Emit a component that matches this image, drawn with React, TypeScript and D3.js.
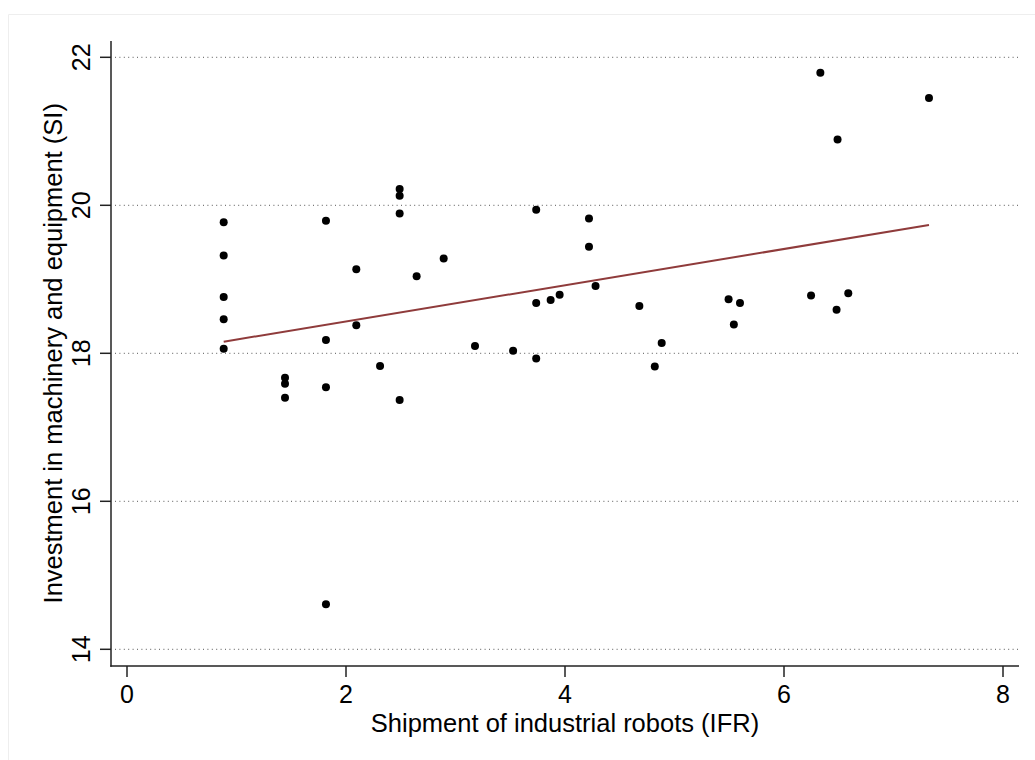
import React from "react";
import * as d3 from "d3";

const robots: number[] = [
  0.883, 0.883, 0.883, 0.883, 0.883,
  1.443, 1.443, 1.443,
  1.817, 1.817, 1.817, 1.817,
  2.094, 2.094, 2.311,
  2.49, 2.49, 2.49, 2.49,
  2.645, 2.892, 3.178, 3.526,
  3.737, 3.737, 3.737, 3.869, 3.951,
  4.219, 4.219, 4.279, 4.679, 4.82, 4.883,
  5.494, 5.542, 5.598,
  6.247, 6.332, 6.48, 6.489, 6.587, 7.324,
];
const investment: number[] = [
  19.77, 19.32, 18.76, 18.46, 18.06,
  17.67, 17.59, 17.4,
  19.79, 18.18, 17.54, 14.61,
  19.135, 18.38, 17.83,
  20.22, 20.13, 19.89, 17.37,
  19.04, 19.28, 18.1, 18.035,
  19.94, 18.68, 17.93, 18.72, 18.79,
  19.82, 19.44, 18.91, 18.64, 17.82, 18.14,
  18.73, 18.39, 18.68,
  18.78, 21.79, 18.59, 20.89, 18.81, 21.45,
];
const fitX: number[] = [0.883, 7.324];
const fitY: number[] = [18.157, 19.734];
const xTicks: number[] = [0, 2, 4, 6, 8];
const yTicks: number[] = [14, 16, 18, 20, 22];
const xTitle = "Shipment of industrial robots (IFR)";
const yTitle = "Investment in machinery and equipment (SI)";

const FONT = "'Liberation Sans', Arial, Helvetica, sans-serif";

export default function App() {
  const W = 1035;
  const H = 760;
  const x = d3.scaleLinear().domain([0, 8]).range([127, 1003]);
  const y = d3.scaleLinear().domain([14, 22]).range([649.3, 57.3]);
  const axisX = 111;
  const axisY = 666;
  const plotRight = 1019;
  const plotTop = 41;

  const line = d3
    .line<[number, number]>()
    .x((d) => x(d[0]))
    .y((d) => y(d[1]));
  const fitPts: [number, number][] = fitX.map((v, i) => [v, fitY[i]]);

  return (
    <svg
      width={W}
      height={H}
      style={{ position: "absolute", left: 0, top: 0, background: "#fff" }}
      fontFamily={FONT}
    >
      <rect x={0} y={0} width={W} height={H} fill="#fff" />
      <line x1={8.5} y1={14.5} x2={W} y2={14.5} stroke="#eeeeee" />
      <line x1={8.5} y1={14.5} x2={8.5} y2={H} stroke="#eeeeee" />

      {/* gridlines */}
      {yTicks.map((t) => (
        <line
          key={"g" + t}
          x1={axisX + 4}
          x2={plotRight}
          y1={y(t)}
          y2={y(t)}
          stroke="#555"
          strokeWidth={1}
          strokeDasharray="1 3.4"
        />
      ))}

      {/* axes */}
      <line x1={axisX} x2={axisX} y1={plotTop} y2={axisY + 0.75} stroke="#222" strokeWidth={1.5} />
      <line x1={axisX - 0.75} x2={plotRight} y1={axisY} y2={axisY} stroke="#222" strokeWidth={1.5} />

      {yTicks.map((t) => (
        <g key={"yt" + t}>
          <line x1={axisX - 11} x2={axisX} y1={y(t)} y2={y(t)} stroke="#222" strokeWidth={1.5} />
          <text
            transform={`translate(90,${y(t)}) rotate(-90)`}
            textAnchor="middle"
            fontSize={25}
            fill="#000"
          >
            {t}
          </text>
        </g>
      ))}

      {xTicks.map((t) => (
        <g key={"xt" + t}>
          <line x1={x(t)} x2={x(t)} y1={axisY} y2={axisY + 11} stroke="#222" strokeWidth={1.5} />
          <text x={x(t)} y={703} textAnchor="middle" fontSize={25} fill="#000">
            {t}
          </text>
        </g>
      ))}

      {/* titles */}
      <text x={(x(0) + x(8)) / 2} y={732} textAnchor="middle" fontSize={25.5} fill="#000">
        {xTitle}
      </text>
      <text
        transform={`translate(62,${(y(14) + y(22)) / 2}) rotate(-90)`}
        textAnchor="middle"
        fontSize={25.5}
        fill="#000"
      >
        {yTitle}
      </text>

      {/* points */}
      {robots.map((v, i) => (
        <circle key={"p" + i} cx={x(v)} cy={y(investment[i])} r={4} fill="#000" />
      ))}

      {/* fitted line */}
      <path d={line(fitPts) || ""} fill="none" stroke="#8f3b3b" strokeWidth={2} />
    </svg>
  );
}
